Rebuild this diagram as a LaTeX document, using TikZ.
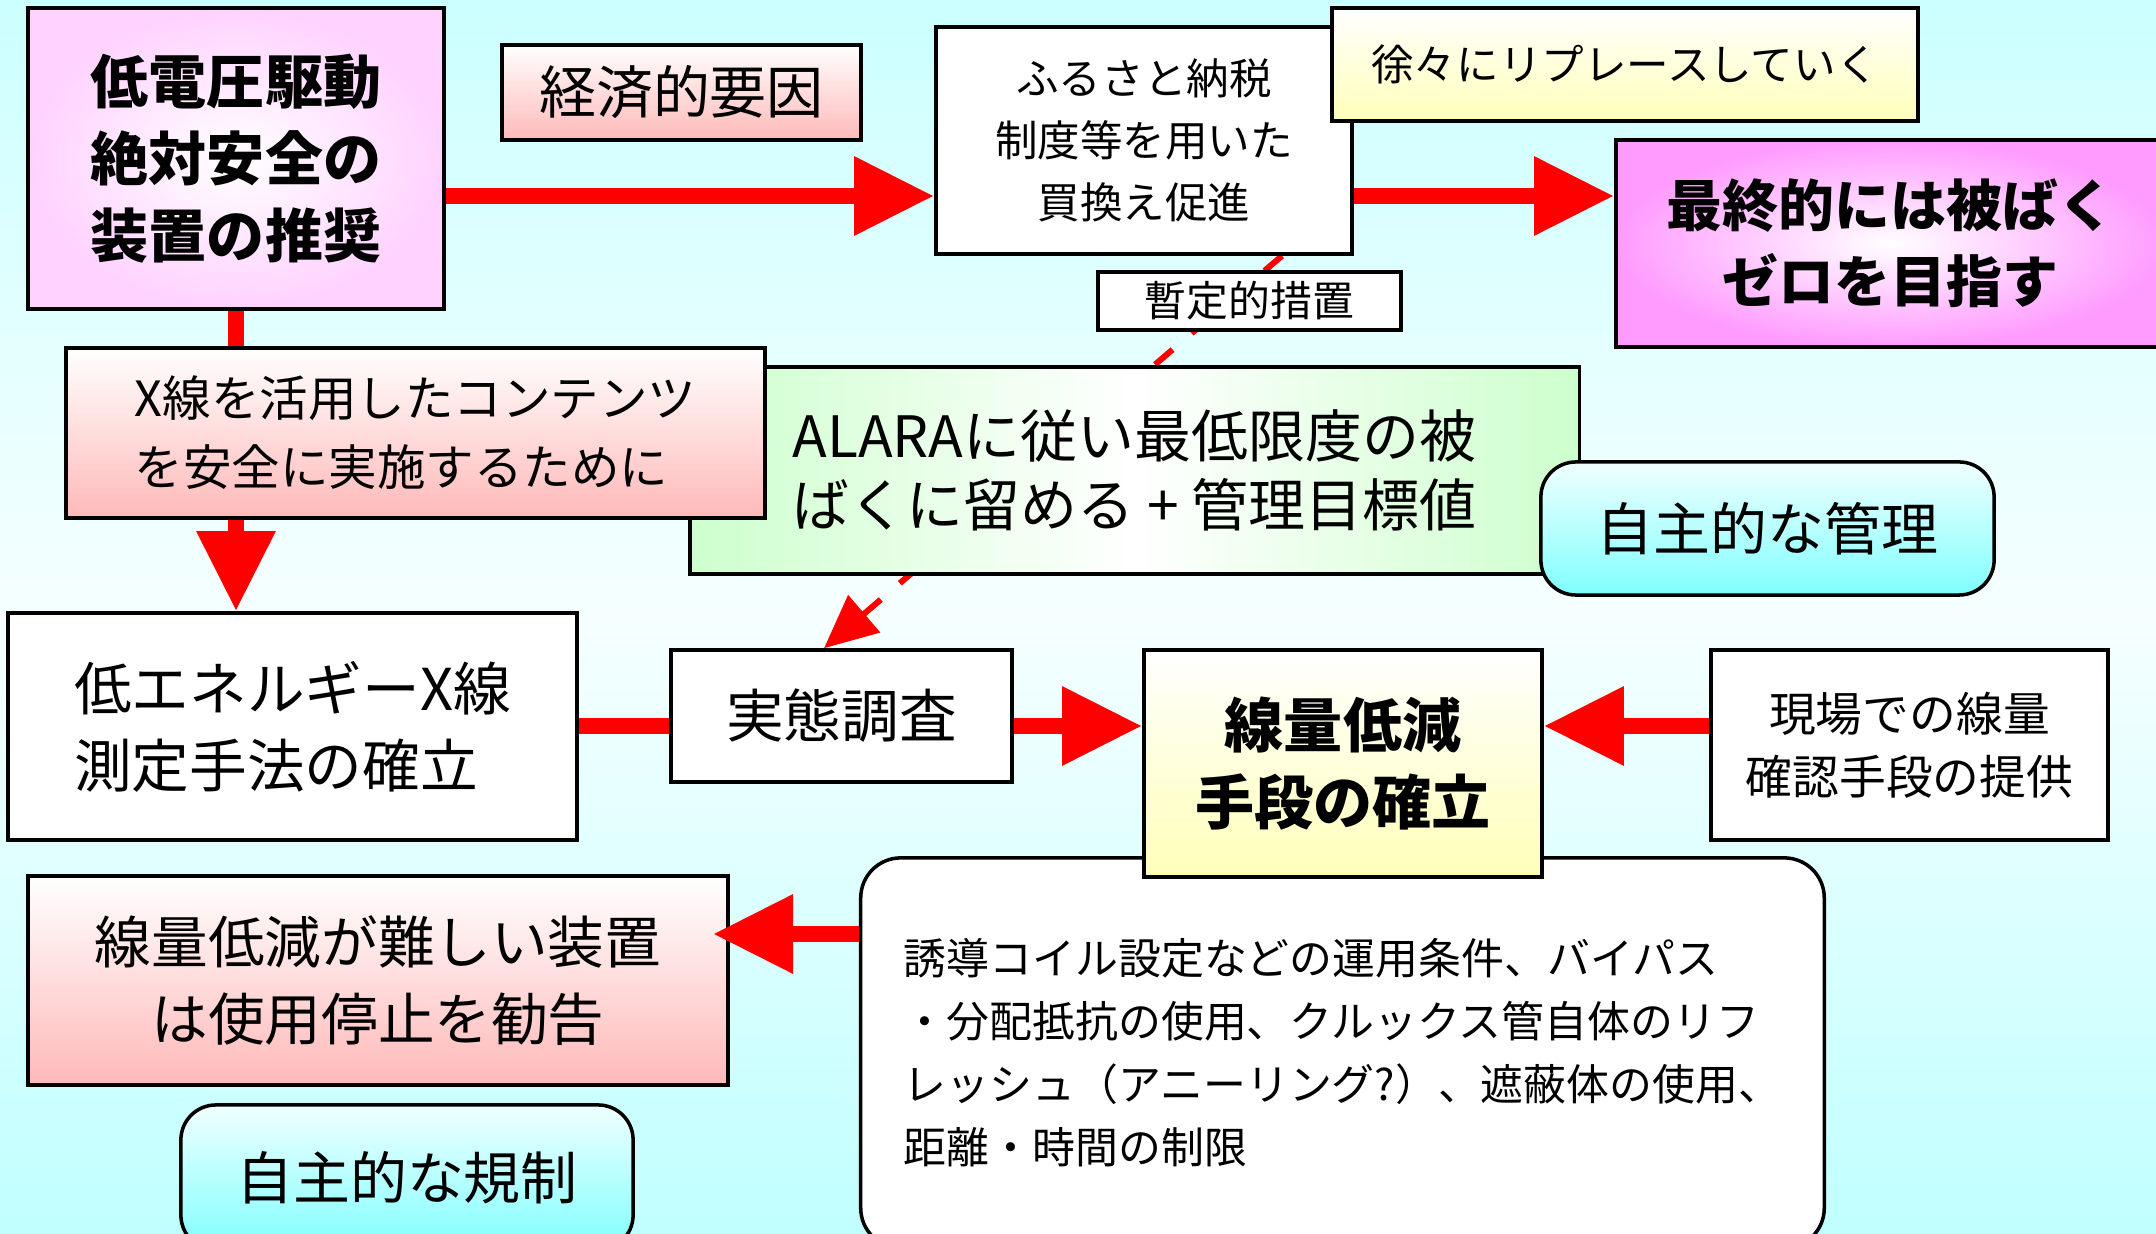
\documentclass[tikz,border=0pt]{standalone}
\usepackage{fontspec}
\setmainfont{Noto Sans CJK JP}
\usetikzlibrary{arrows.meta}
\pgfdeclarelayer{back}
\pgfdeclarelayer{links}
\pgfsetlayers{back,links,main}
\definecolor{bgtop}{RGB}{204,255,255}
\definecolor{bgmid}{RGB}{246,255,255}
\definecolor{bgbot}{RGB}{192,255,255}
\definecolor{pinkb}{RGB}{255,185,185}
\definecolor{yelb}{RGB}{255,255,185}
\definecolor{greenb}{RGB}{205,255,205}
\definecolor{cyantop}{RGB}{240,255,255}
\definecolor{cyanb}{RGB}{128,255,255}
\definecolor{lilac}{RGB}{255,210,255}
\definecolor{magb}{RGB}{255,155,255}

\begin{document}
\begin{tikzpicture}[x=0.01cm, y=-0.01cm,
		box/.style={draw, line width=1pt, inner sep=0pt, align=center},
		plain/.style={box, fill=white},
		pinkgrad/.style={box, top color=white, bottom color=pinkb},
		yellowgrad/.style={box, top color=white, bottom color=yelb},
		cyangrad/.style={box, rounded corners=0.35cm, top color=cyantop, bottom color=cyanb},
		radgrad/.style={box, inner color=white, outer color=#1},
		fnt/.style 2 args={font=\fontsize{#1}{#2}\selectfont},
		bfnt/.style 2 args={font=\fontsize{#1}{#2}\selectfont\bfseries},
		redarrow/.style={red, line width=0.16cm, -{Triangle[length=0.8cm, width=0.75cm]}},
		redline/.style={red, line width=0.16cm},
		dasharrow/.style={red, line width=0.06cm, dash pattern=on 0.23cm off 0.25cm, -{Triangle[length=0.53cm, width=0.48cm]}}]
		\useasboundingbox (0,0) rectangle (2156,1234);
		\begin{pgfonlayer}{back}
			\fill[top color=bgtop, bottom color=bgbot, middle color=bgmid] (0,0) rectangle (2156,1234);
		\end{pgfonlayer}
		
		\coordinate (row_1) at (0,196);
		\coordinate (row_2) at (0,726);
		\coordinate (row_3) at (0,934);
		\coordinate (dash_1) at (1282,0);
		\coordinate (dash_2) at (824,0);
		
		\node[radgrad=lilac, bfnt={16.5}{21.9}, minimum width=4.16cm, minimum height=3.01cm] (lowvolt) at (236,158.5) {低電圧駆動\\絶対安全の\\装置の推奨};
		\node[pinkgrad, fnt={16.2}{21.9}, minimum width=3.59cm, minimum height=0.95cm] (econ) at (681.5,92.5) {経済的要因};
		\node[plain, fnt={12.1}{17.6}, minimum width=4.16cm, minimum height=2.27cm] (furusato) at (1144,140.5) {ふるさと納税\\制度等を用いた\\買換え促進};
		\node[yellowgrad, fnt={12.1}{17.6}, minimum width=5.86cm, minimum height=1.13cm] (replace) at (1625,64.5) {徐々にリプレースしていく};
		\node[radgrad=magb, bfnt={15.9}{21.6}, minimum width=5.49cm, minimum height=2.07cm] (zero) at (1890.5,243.5) {最終的には被ばく\\ゼロを目指す};
		\node[plain, fnt={11.9}{17}, minimum width=3.03cm, minimum height=0.58cm] (interim) at (1249.5,301) {暫定的措置};
		\node[box, left color=greenb, right color=greenb, middle color=white, fnt={16.2}{19.4}, align=left, minimum width=8.89cm, minimum height=2.07cm] (alara) at (1134.5,470.5) {ALARAに従い最低限度の被\\ばくに留める + 管理目標値};
		\node[pinkgrad, fnt={13.8}{19.6}, align=left, minimum width=6.99cm, minimum height=1.70cm] (contents) at (415.5,433) {X線を活用したコンテンツ\\を安全に実施するために};
		\node[cyangrad, fnt={16.2}{21.9}, minimum width=4.53cm, minimum height=1.33cm] (selfmgmt) at (1767.5,528.5) {自主的な管理};
		\node[plain, fnt={16.4}{21.9}, align=left, minimum width=5.69cm, minimum height=2.27cm] (lowenergy) at (292.5,726.5) {低エネルギーX線\\測定手法の確立};
		\node[plain, fnt={16.4}{21.9}, minimum width=3.41cm, minimum height=1.32cm] (survey) at (841.5,716) {実態調査};
		\node[box, fill=white, rounded corners=0.4cm, fnt={12.2}{17.9}, align=left, minimum width=9.63cm, minimum height=3.90cm] (methods) at (1342.5,1053) {誘導コイル設定などの運用条件、バイパス\\・分配抵抗の使用、クルックス管自体のリフ\\レッシュ（アニーリング?）、遮蔽体の使用、\\距離・時間の制限};
		\node[yellowgrad, bfnt={16.8}{21.9}, minimum width=3.98cm, minimum height=2.27cm] (reduce) at (1343,763.5) {線量低減\\手段の確立};
		\node[plain, fnt={13.3}{17.9}, minimum width=3.97cm, minimum height=1.90cm] (onsite) at (1909.5,745) {現場での線量\\確認手段の提供};
		\node[pinkgrad, fnt={16.1}{21.9}, minimum width=7.00cm, minimum height=2.09cm] (hardstop) at (378,980.5) {線量低減が難しい装置\\は使用停止を勧告};
		\node[cyangrad, fnt={16.2}{21.9}, minimum width=4.52cm, minimum height=1.45cm] (selfreg) at (407,1177.5) {自主的な規制};
		
		\begin{pgfonlayer}{links}
			\draw[redarrow] (lowvolt.east |- row_1) -- (furusato.west |- row_1);
			\draw[redarrow] (furusato.east |- row_1) -- (zero.west |- row_1);
			\draw[redarrow] (lowvolt.south) -- (lowvolt.south |- lowenergy.north);
			\draw[redline] (lowenergy.east |- row_2) -- (survey.west |- row_2);
			\draw[redarrow] (survey.east |- row_2) -- (reduce.west |- row_2);
			\draw[redarrow] (onsite.west |- row_2) -- (reduce.east |- row_2);
			\draw[dasharrow] (furusato.south -| dash_1) -- (survey.north -| dash_2);
		\end{pgfonlayer}
		\draw[redarrow, shorten >=-0.17cm] (methods.west |- row_3) -- (hardstop.east |- row_3);
	\end{tikzpicture}
\end{document}
